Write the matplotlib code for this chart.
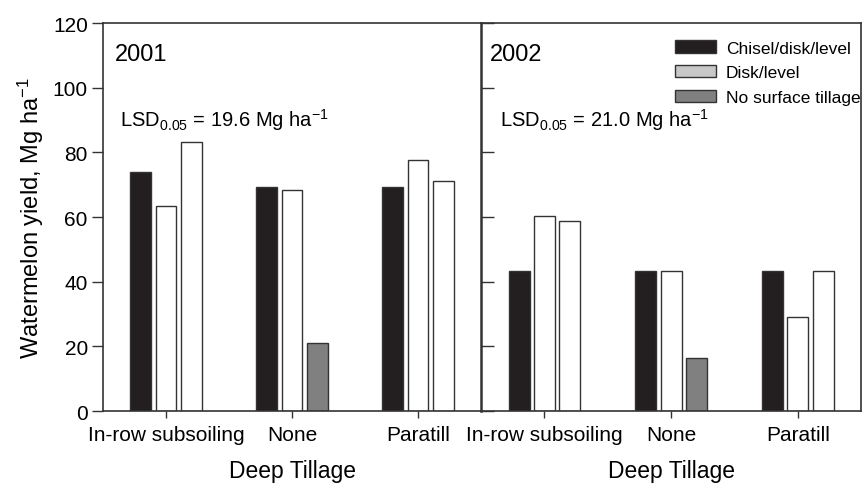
import numpy as np
import matplotlib
matplotlib.use('Agg')
import matplotlib.pyplot as plt
from matplotlib.patches import Patch

plt.rcParams['font.family'] = ['Liberation Sans', 'DejaVu Sans']
plt.rcParams['mathtext.fontset'] = 'custom'
plt.rcParams['mathtext.rm'] = 'Liberation Sans'
plt.rcParams['mathtext.it'] = 'Liberation Sans:italic'
plt.rcParams['mathtext.bf'] = 'Liberation Sans:bold'

groups = ['In-row subsoiling', 'None', 'Paratill']
series = ['Chisel/disk/level', 'Disk/level', 'No surface tillage']

# yield, Mg/ha  (rows = deep tillage, cols = bar order in group)
y2001 = [[74.0, 63.5, 83.2],
         [69.3, 68.3, 20.9],
         [69.3, 77.5, 71.0]]
y2002 = [[43.2, 60.2, 58.7],
         [43.4, 43.4, 16.3],
         [43.4, 29.2, 43.4]]
# fill colour of each bar as drawn
fills2001 = [['#231f20', 'white', 'white'],
             ['#231f20', 'white', '#808080'],
             ['#231f20', 'white', 'white']]
fills2002 = fills2001
legend_colors = ['#231f20', '#c8c8c8', '#808080']

years = ['2001', '2002']
lsd = [r'LSD$_{0.05}$ = 19.6 Mg ha$^{-1}$', r'LSD$_{0.05}$ = 21.0 Mg ha$^{-1}$']

fig = plt.figure(figsize=(8.63, 4.85), dpi=100)
ax1 = fig.add_axes([0.1194, 0.1505, 0.438, 0.80])
ax2 = fig.add_axes([0.5574, 0.1505, 0.4406, 0.80], sharey=ax1)

x = np.arange(len(groups))
w = 0.165
offs = [-0.2, 0, 0.2]
edge = '#333333'

for ax, data, fills, yr, txt, ty, tx in [(ax1, y2001, fills2001, years[0], lsd[0], 0.032, 0.045),
                                         (ax2, y2002, fills2002, years[1], lsd[1], 0.024, 0.05)]:
    data = np.array(data)
    for j in range(3):
        ax.bar(x + offs[j], data[:, j], w, color=[f[j] for f in fills],
               edgecolor=edge, linewidth=1.0)
    ax.set_xlim(-0.5, 2.5)
    ax.set_ylim(0, 120)
    ax.set_xticks(x)
    ax.set_xticklabels(groups, fontsize=15)
    ax.tick_params(axis='x', direction='out', length=5, width=1, color=edge, pad=5)
    ax.set_xlabel('Deep Tillage', fontsize=16.5, labelpad=11)
    for s in ax.spines.values():
        s.set_color(edge)
        s.set_linewidth(1.2)
    ax.text(ty, 0.92, yr, transform=ax.transAxes, fontsize=17, va='center')
    ax.text(tx, 0.752, txt, transform=ax.transAxes, fontsize=14.5, va='center')

ax1.set_yticks(np.arange(0, 121, 20))
ax1.tick_params(axis='y', direction='out', length=8, width=1, color=edge, labelsize=15, pad=3)
ax1.set_ylabel(r'Watermelon yield, Mg ha$^{-1}$', fontsize=17, labelpad=5)
ax1.spines['right'].set_visible(False)
ax2.tick_params(axis='y', direction='in', length=9, width=1, color=edge, labelleft=False)
ax2.spines['left'].set_linewidth(1.8)

handles = [Patch(facecolor=c, edgecolor=edge, linewidth=1.0) for c in legend_colors]
ax2.legend(handles, series, loc='upper left', bbox_to_anchor=(0.509, 0.955),
           frameon=False, fontsize=12.5, handlelength=2.4, handleheight=0.7,
           handletextpad=0.55, labelspacing=0.55, borderaxespad=0, borderpad=0)

fig.savefig('out.png', dpi=100)
